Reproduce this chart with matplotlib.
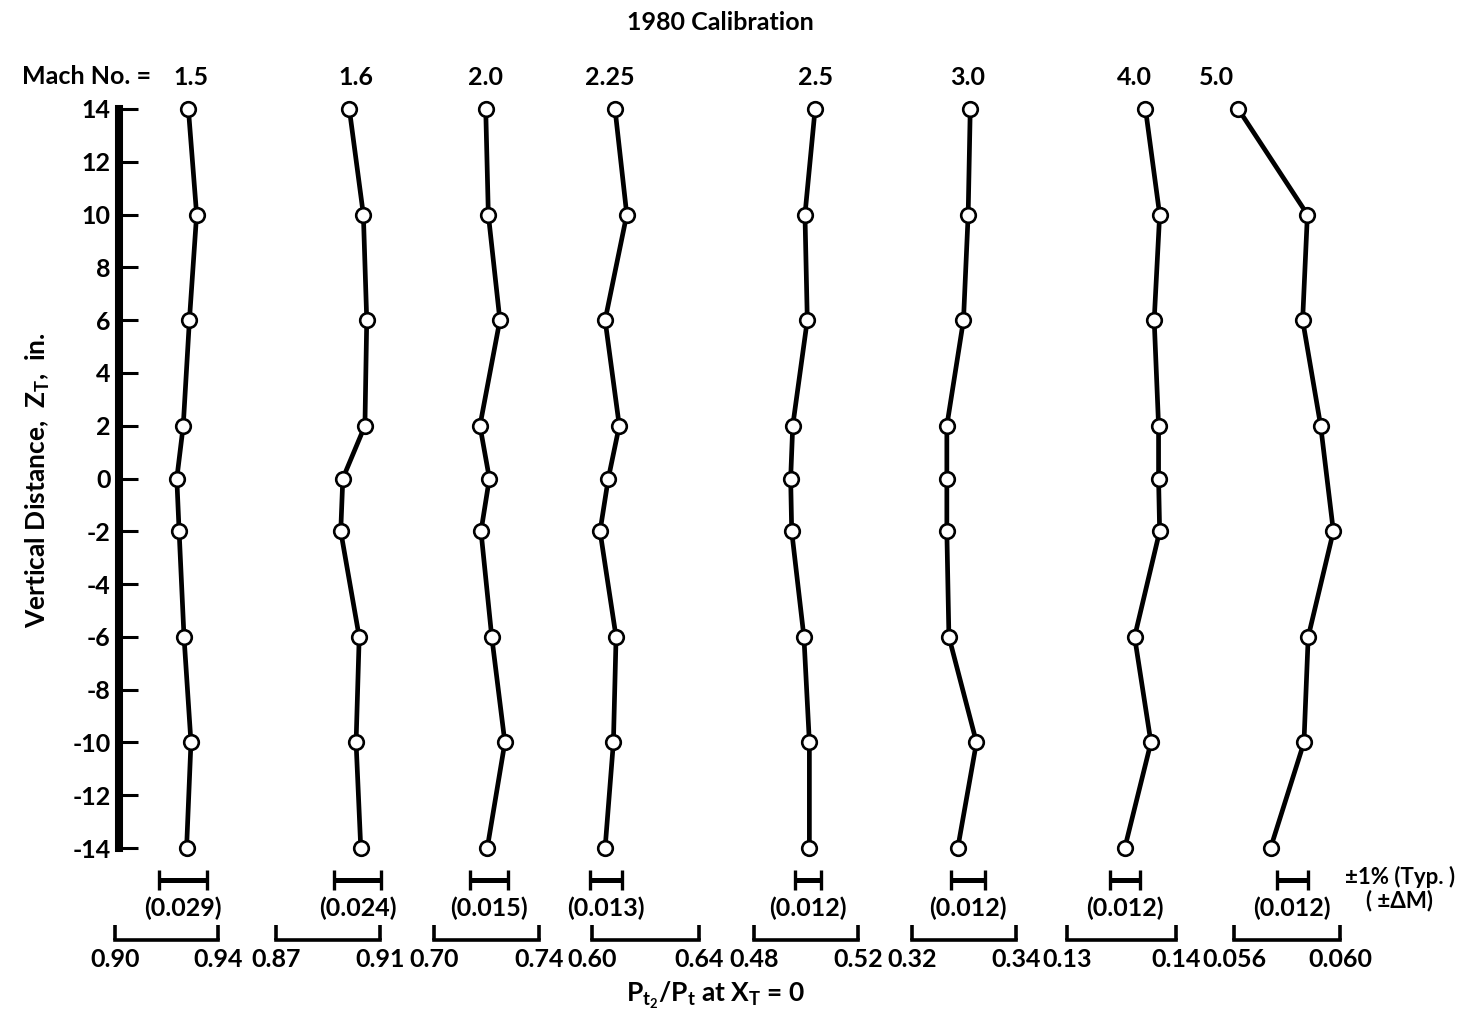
import numpy as np
import matplotlib
matplotlib.use("Agg")
import matplotlib.pyplot as plt

plt.rcParams['font.family'] = ['Lato', 'DejaVu Sans']
plt.rcParams['font.weight'] = 'bold'
plt.rcParams['mathtext.fontset'] = 'custom'
plt.rcParams['mathtext.rm'] = 'Lato:bold'
plt.rcParams['mathtext.it'] = 'Lato:bold'
plt.rcParams['axes.unicode_minus'] = False

# survey stations (vertical distance, in.)
z_full = [14, 10, 6, 2, 0, -2, -6, -10, -14]
z_m50 = [14, 10, 6, 2, -2, -6, -10, -14]

mach = ['1.5', '1.6', '2.0', '2.25', '2.5', '3.0', '4.0', '5.0']

# Pt2/Pt at XT = 0 for each Mach number
pr_m15 = [0.9285, 0.9317, 0.9289, 0.9265, 0.9240, 0.9249, 0.9268, 0.9295, 0.9278]
pr_m16 = [0.8982, 0.9036, 0.9049, 0.9042, 0.8957, 0.8949, 0.9020, 0.9008, 0.9026]
pr_m20 = [0.7197, 0.7207, 0.7251, 0.7175, 0.7211, 0.7179, 0.7220, 0.7270, 0.7203]
pr_m225 = [0.6086, 0.6130, 0.6049, 0.6102, 0.6061, 0.6030, 0.6090, 0.6080, 0.6049]
pr_m25 = [0.5035, 0.4996, 0.5005, 0.4949, 0.4941, 0.4945, 0.4992, 0.5013, 0.5013]
pr_m30 = [0.3312, 0.3308, 0.3299, 0.3267, 0.3267, 0.3267, 0.3271, 0.3324, 0.3288]
pr_m40 = [0.1372, 0.1385, 0.1380, 0.1384, 0.1384, 0.1385, 0.1362, 0.1377, 0.1353]
pr_m50 = [0.05616, 0.05877, 0.05859, 0.05927, 0.05975, 0.05880, 0.05864, 0.05738]

profiles = [pr_m15, pr_m16, pr_m20, pr_m225, pr_m25, pr_m30, pr_m40, pr_m50]
stations = [z_full] * 7 + [z_m50]

# scale brackets under each profile
scale_lo = [0.90, 0.87, 0.70, 0.60, 0.48, 0.32, 0.13, 0.056]
scale_hi = [0.94, 0.91, 0.74, 0.64, 0.52, 0.34, 0.14, 0.060]
scale_dec = [2, 2, 2, 2, 2, 2, 2, 3]

# +-1% band centre and the matching +-delta M
band_center = [0.9264, 0.9015, 0.7210, 0.6053, 0.5008, 0.3308, 0.1353, 0.0582]
delta_mach = ['0.029', '0.024', '0.015', '0.013', '0.012', '0.012', '0.012', '0.012']

W, H = 1472, 1033
fig = plt.figure(figsize=(W / 100, H / 100), dpi=100)

top_px, bot_px = 109, 848
bottom = (H - bot_px) / H
height = (bot_px - top_px) / H
fs = 18

# shared vertical scale
ay = fig.add_axes([119 / W, bottom, 20 / W, height])
ay.patch.set_visible(False)
ay.set_ylim(-14, 14)
ay.set_yticks(range(-14, 15, 2))
ay.set_xticks([])
for s in ['top', 'right', 'bottom']:
    ay.spines[s].set_visible(False)
ay.spines['left'].set_linewidth(5.8)
ay.tick_params(axis='y', direction='in', length=14, width=2.2, pad=6, labelsize=fs)

left_px = [115, 276, 434, 592, 754, 912, 1067, 1234]
width_px = [103, 104, 105, 107, 104, 104, 109, 106]
label_shift = [2, 5, 0, -4, 0, -2, -8, -16]

for i in range(len(mach)):
    ax = fig.add_axes([left_px[i] / W, bottom, width_px[i] / W, height])
    ax.patch.set_visible(False)
    ax.set_xlim(scale_lo[i], scale_hi[i])
    ax.set_ylim(-14, 14)
    for s in ['top', 'right', 'left']:
        ax.spines[s].set_visible(False)
    ax.set_yticks([])
    ax.spines['bottom'].set_position(('outward', 66))
    ax.spines['bottom'].set_linewidth(2.6)
    ax.set_xticks([scale_lo[i], scale_hi[i]])
    fmt = '%.' + str(scale_dec[i]) + 'f'
    ax.set_xticklabels([fmt % scale_lo[i], fmt % scale_hi[i]])
    ax.tick_params(axis='x', direction='in', length=11, width=2.6, pad=6, labelsize=fs)

    ax.plot(profiles[i], stations[i], '-o', color='black', lw=3.4, ms=10.5,
            mfc='white', mec='black', mew=1.9, clip_on=False, zorder=3)

    # +-1% band
    c = band_center[i]
    ax.errorbar([c], [-15.2], xerr=[0.01 * c], fmt='none', ecolor='black',
                elinewidth=3.6, capsize=7, capthick=2.4, clip_on=False)
    ax.text(c, -16.3, '(' + delta_mach[i] + ')', ha='center', va='center', fontsize=fs)

    ax.annotate(mach[i], xy=(profiles[i][0], 14), xytext=(label_shift[i], 23),
                textcoords='offset points', ha='center', va='center', fontsize=fs)

fig.text(22 / W, 1 - 77 / H, 'Mach No. =', ha='left', va='center', fontsize=fs)
fig.text(720 / W, 1 - 22 / H, '1980 Calibration', ha='center', va='center', fontsize=fs)
fig.text(38 / W, 1 - 480 / H, r'Vertical Distance,  Z$_\mathrm{T}$,  in.', rotation=90,
         ha='center', va='center', fontsize=19)
fig.text(716 / W, 1 - 995 / H, r'P$_{\mathrm{t}_2}$/P$_\mathrm{t}$ at X$_\mathrm{T}$ = 0',
         ha='center', va='center', fontsize=19)
fig.text(1345 / W, 1 - 877 / H, '±1% (Typ. )', ha='left', va='center', fontsize=16)
fig.text(1366 / W, 1 - 901 / H, '( ±ΔM)', ha='left', va='center', fontsize=16)

fig.savefig('out.png', dpi=100)
